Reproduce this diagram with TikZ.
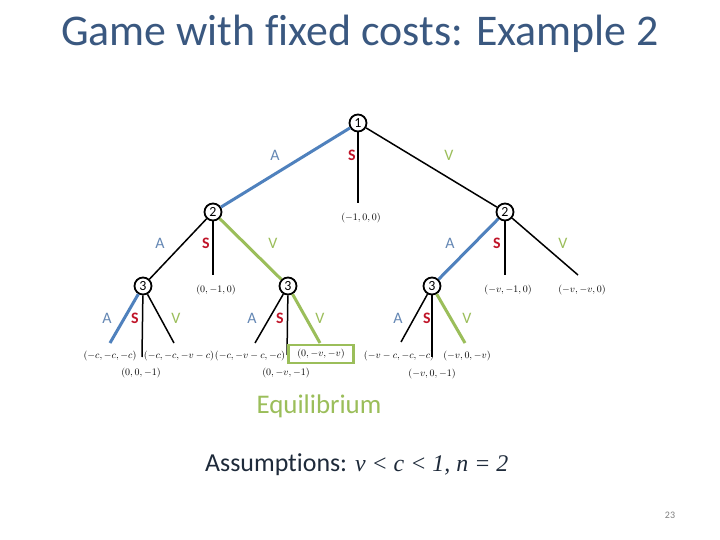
\documentclass[tikz,border=0pt]{standalone}
\usepackage{fontspec}
\setmainfont{Carlito}[Ligatures=NoCommon]
\newfontfamily\timesfont{Liberation Serif}
\usepackage{tikz}
\usetikzlibrary{positioning}
\definecolor{titleblue}{RGB}{58, 88, 128}
\definecolor{edgeblue}{RGB}{79, 129, 189}
\definecolor{labelblue}{RGB}{100, 135, 180}
\definecolor{labelred}{RGB}{192, 20, 40}
\definecolor{eqgreen}{RGB}{155, 190, 90}
\definecolor{textnavy}{RGB}{30, 42, 58}

\begin{document}
\begin{tikzpicture}[x=1bp, y=-1bp,
    player/.style={circle, draw, fill=white, line width=1.8bp, inner sep=0pt, minimum size=17bp, font=\fontsize{14}{14}\selectfont},
    pay/.style={inner sep=1bp, font=\fontsize{10}{12}\selectfont},
    plain/.style={line width=1.5bp},
    blueline/.style={line width=3bp, edgeblue},
    greenline/.style={line width=3bp, eqgreen},
    actA/.style={text=labelblue, font=\fontsize{16}{16}\selectfont},
    actS/.style={text=labelred, font=\fontsize{16}{16}\selectfont\bfseries},
    actV/.style={text=eqgreen, font=\fontsize{16}{16}\selectfont}]
    \fill[white] (0,0) rectangle (720,540);
    \useasboundingbox (0,0) rectangle (720,540);

    % Title
    \node[anchor=base, text=titleblue, font=\fontsize{44}{44}\selectfont] (title) at (360,46) {Game with fixed costs: Example 2};

    % Players
    \node[player] (p1) at (358,123) {1};
    \node[player] (p2L) at (213,212) {2};
    \node[player] (p2R) at (505,212) {2};
    \node[player] (p3L) at (143,286) {3};
    \node[player] (p3M) at (288,286) {3};
    \node[player] (p3R) at (432,286) {3};

    % Leaf ends
    \coordinate (e1S) at (358,203);
    \coordinate (e2LS) at (213,275);
    \coordinate (e2RS) at (505,275);
    \coordinate (e2RV) at (578,275);
    \coordinate (e3LA) at (110,343);
    \coordinate (e3LS) at (142,357);
    \coordinate (e3LV) at (174,343);
    \coordinate (e3MA) at (255,343);
    \coordinate (e3MS) at (287,355);
    \coordinate (e3MV) at (320,343);
    \coordinate (e3RA) at (401,342);
    \coordinate (e3RS) at (432,357);
    \coordinate (e3RV) at (465,343);

    % Moves
    \draw[blueline] (p1) -- (p2L);
    \draw[plain] (p1) -- (e1S);
    \draw[plain] (p1) -- (p2R);
    \draw[plain] (p2L) -- (p3L);
    \draw[plain] (p2L) -- (e2LS);
    \draw[greenline] (p2L) -- (p3M);
    \draw[blueline] (p2R) -- (p3R);
    \draw[plain] (p2R) -- (e2RS);
    \draw[plain] (p2R) -- (e2RV);
    \draw[blueline] (p3L) -- (e3LA);
    \draw[plain] (p3L) -- (e3LS);
    \draw[plain] (p3L) -- (e3LV);
    \draw[plain] (p3M) -- (e3MA);
    \draw[plain] (p3M) -- (e3MS);
    \draw[greenline] (p3M) -- (e3MV);
    \draw[plain] (p3R) -- (e3RA);
    \draw[plain] (p3R) -- (e3RS);
    \draw[greenline] (p3R) -- (e3RV);

    % Move labels
    \foreach \x/\y/\t/\s [count=\i] in {275/155/A/actA, 352/155/S/actS, 449/155/V/actV,
        160/243/A/actA, 206/243/S/actS, 273/243/V/actV,
        450/243/A/actA, 497/243/S/actS, 563/243/V/actV,
        107/318/A/actA, 135/318/S/actS, 176/318/V/actV,
        252/318/A/actA, 280/318/S/actS, 320/318/V/actV,
        398/318/A/actA, 427/318/S/actS, 467/318/V/actV}
        \node[\s] (lab\i) at (\x,\y) {\t};

    % Payoffs
    \node[pay] (t1) at (361,218) {$(-1,0,0)$};
    \node[pay] (t2) at (216,290) {$(0,-1,0)$};
    \node[pay] (t3) at (508,290) {$(-v,-1,0)$};
    \node[pay] (t4) at (582,290) {$(-v,-v,0)$};
    \node[pay] (t5) at (110,356) {$(-c,-c,-c)$};
    \node[pay] (t6) at (141,373) {$(0,0,-1)$};
    \node[pay] (t7) at (179,356) {$(-c,-c,-v-c)$};
    \node[pay] (t8) at (250,356) {$(-c,-v-c,-c)$};
    \node[pay] (t9) at (286,373) {$(0,-v,-1)$};
    \node[pay, draw=eqgreen, line width=2.5bp, inner xsep=9bp, inner ysep=4bp] (t10) at (321,354) {$(0,-v,-v)$};
    \node[pay] (t11) at (399,356) {$(-v-c,-c,-c)$};
    \node[pay] (t12) at (432,374) {$(-v,0,-1)$};
    \node[pay] (t13) at (467,356) {$(-v,0,-v)$};

    % Notes
    \node[anchor=base, text=eqgreen, font=\fontsize{27}{27}\selectfont] (equil) at (319,413) {Equilibrium};
    \node[anchor=base west, inner sep=0pt, text=textnavy, font=\fontsize{26}{26}\selectfont] (assume) at (205,471) {Assumptions: {\timesfont\itshape\fontsize{24}{24}\selectfont v < c < 1, n = 2}};
    \node[text=gray, font=\fontsize{10}{10}\selectfont] (page) at (670,515) {23};
\end{tikzpicture}
\end{document}
